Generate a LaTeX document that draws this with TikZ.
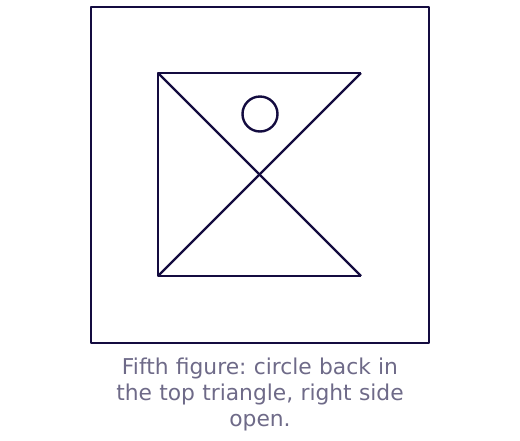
\documentclass[tikz,border=0pt]{standalone}
\usepackage{fontspec}
\setmainfont{DejaVu Sans}
\frenchspacing
\definecolor{ink}{HTML}{140C40}
\definecolor{cap}{HTML}{6E6A88}
\begin{document}
\begin{tikzpicture}[x=1pt,y=-1pt,
  stroke/.style={draw=ink,line width=2.4pt,line join=round},
  captext/.style={text=cap,font=\fontsize{21.8}{26}\selectfont,align=center,text width=440pt}]
\useasboundingbox (0,0) rectangle (520,440);
\node[stroke,minimum width=338pt,minimum height=336pt,inner sep=0pt] (frame) at (260,175) {};
\coordinate (tl) at (158,73);
\coordinate (tr) at (361,73);
\coordinate (bl) at (158,276);
\coordinate (br) at (361,276);
\draw[stroke] (tr) -- (tl) -- (bl) -- (br);
\draw[stroke] (tl) -- (br);
\draw[stroke] (bl) -- (tr);
\node[stroke,circle,minimum size=35pt,inner sep=0pt] (ball) at (260,114) {};
\node[captext] (caption) at (260,394) {Fifth figure: circle back in\\the top triangle, right side\\open.};
\end{tikzpicture}
\end{document}
